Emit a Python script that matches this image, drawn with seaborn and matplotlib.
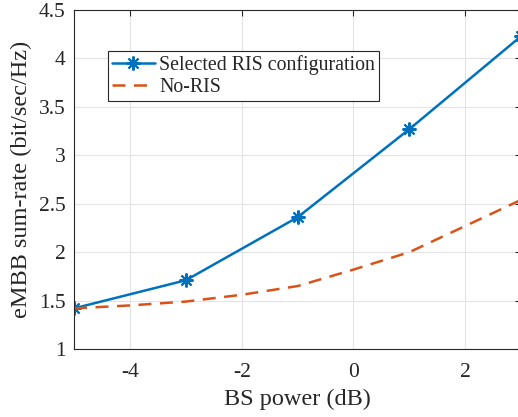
import matplotlib
matplotlib.use("Agg")
import matplotlib.pyplot as plt
import seaborn as sns
import pandas as pd

# BS transmit power (dB)
power_ris = [-5, -3, -1, 1, 3]
rate_ris = [1.42, 1.71, 2.36, 3.27, 4.23]

power_nor = [-5, -4, -3, -2, -1, 0, 1, 2, 3]
rate_nor = [1.42, 1.45, 1.49, 1.56, 1.65, 1.82, 2.00, 2.27, 2.54]

x_ticks = [-4, -2, 0, 2]
y_ticks = [1, 1.5, 2, 2.5, 3, 3.5, 4, 4.5]

sns.set_theme(style="whitegrid")
plt.rcParams["font.family"] = ["Liberation Serif", "DejaVu Serif"]
plt.rcParams["mathtext.fontset"] = "stix"

df_ris = pd.DataFrame({"power": power_ris, "rate": rate_ris})
df_nor = pd.DataFrame({"power": power_nor, "rate": rate_nor})

fig = plt.figure(figsize=(5.18, 4.17), dpi=100)
ax = fig.add_axes([0.143, 0.163, 0.863, 0.813])

sns.lineplot(data=df_ris, x="power", y="rate", ax=ax, color="#0072BD",
             linewidth=1.8, marker=(8, 2, 0), markersize=10, markeredgewidth=1.5,
             markeredgecolor="#0072BD", label="Selected RIS configuration")
sns.lineplot(data=df_nor, x="power", y="rate", ax=ax, color="#D95319",
             linewidth=1.8, linestyle=(0, (5.2, 3.4)), label="No-RIS")

ax.set_xlim(-5, 3)
ax.set_ylim(1, 4.5)
ax.set_xticks(x_ticks)
ax.set_xticklabels([str(t) for t in x_ticks])
ax.set_yticks(y_ticks)
ax.set_yticklabels([f"{t:g}" for t in y_ticks])

ax.set_facecolor("white")
ax.grid(True, color="#e3e3e3", linewidth=0.8)
for s in ax.spines.values():
    s.set_color("#262626")
    s.set_linewidth(0.8)
ax.tick_params(axis="both", direction="in", length=4, width=0.8, colors="#262626",
               labelsize=15.5, top=True, right=True, pad=6)
ax.tick_params(axis="x", pad=10)
ax.tick_params(axis="both", labelcolor="#262626")

ax.set_xlabel("BS power (dB)", fontsize=17.5, color="#262626", labelpad=5)
ax.set_ylabel("eMBB sum-rate (bit/sec/Hz)", fontsize=17.5, color="#262626", labelpad=5)

leg = ax.legend(loc="upper left", bbox_to_anchor=(0.075, 0.88), fontsize=14.3,
                frameon=True, fancybox=False, edgecolor="#262626", framealpha=1,
                borderpad=0.2, handlelength=2.2, handletextpad=0.2, labelspacing=0.15,
                borderaxespad=0)
leg.get_frame().set_linewidth(0.8)

fig.savefig("out.png", dpi=100)
